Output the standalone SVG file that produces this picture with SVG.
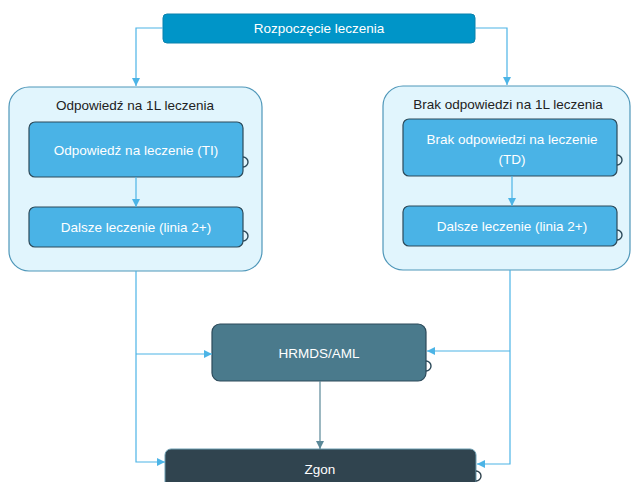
<svg xmlns="http://www.w3.org/2000/svg" width="632" height="482" viewBox="0 0 632 482">
<style>
text{font-family:"Liberation Sans",Arial,sans-serif;font-size:13.5px;text-anchor:middle}
.w{fill:#ffffff}
.d{fill:#222222}
.cont{fill:#e1f5fd;stroke:#4f97b9;stroke-width:1.2}
.inner{fill:#4ab3e6;stroke:#2c4a5a;stroke-width:1.2}
.con{fill:none;stroke:#4cb4e6;stroke-width:1.2}
.loop{fill:none;stroke:#2c4a5a;stroke-width:1.4}
</style>
<defs>
<marker id="ab" viewBox="0 0 10 10" refX="10" refY="5" markerWidth="8" markerHeight="8" markerUnits="userSpaceOnUse" orient="auto"><path d="M0,0 L10,5 L0,10 z" fill="#4cb4e6"/></marker>
<marker id="ag" viewBox="0 0 10 10" refX="10" refY="5" markerWidth="8" markerHeight="8" markerUnits="userSpaceOnUse" orient="auto"><path d="M0,0 L10,5 L0,10 z" fill="#5a8898"/></marker>
</defs>
<g id="start">
<rect x="163" y="14" width="312" height="29" rx="4" fill="#0095c8" stroke="#0a82ad" stroke-width="1"/>
<text class="w" x="319" y="33">Rozpoczęcie leczenia</text>
</g>
<g id="group-left">
<rect class="cont" x="9" y="87" width="253" height="184" rx="20"/>
<text class="d" x="135" y="110">Odpowiedź na 1L leczenia</text>
</g>
<g id="group-right">
<rect class="cont" x="383" y="86" width="247" height="184" rx="20"/>
<text class="d" x="508" y="109">Brak odpowiedzi na 1L leczenia</text>
</g>
<g id="ti">
<rect class="inner" x="29" y="122" width="214" height="55" rx="6"/>
<path class="loop" d="M243,157 A5,5 0 0 1 243,167"/>
<text class="w" x="136" y="155">Odpowiedź na leczenie (TI)</text>
</g>
<g id="dalsze-left">
<rect class="inner" x="29" y="207" width="214" height="40" rx="6"/>
<path class="loop" d="M243,231 A5,5 0 0 1 243,241"/>
<text class="w" x="136" y="232">Dalsze leczenie (linia 2+)</text>
</g>
<g id="td">
<rect class="inner" x="403" y="119" width="214" height="57" rx="6"/>
<path class="loop" d="M617,155 A5,5 0 0 1 617,165"/>
<text class="w" x="512" y="144">Brak odpowiedzi na leczenie</text>
<text class="w" x="512" y="164">(TD)</text>
</g>
<g id="dalsze-right">
<rect class="inner" x="403" y="206" width="214" height="40" rx="6"/>
<path class="loop" d="M617,230 A5,5 0 0 1 617,240"/>
<text class="w" x="512" y="231">Dalsze leczenie (linia 2+)</text>
</g>
<g id="hrmds">
<rect x="212" y="324" width="214" height="57" rx="8" fill="#4a7a8c" stroke="#2c4a5a" stroke-width="1.2"/>
<path class="loop" d="M426,361 A5,5 0 0 1 426,371"/>
<text class="w" x="319" y="358">HRMDS/AML</text>
</g>
<g id="zgon">
<rect x="165" y="449" width="311" height="45" rx="6" fill="#30444f" stroke="#6a9cb0" stroke-width="1"/>
<path fill="none" stroke="#30444f" stroke-width="1.4" d="M476,471 A5,5 0 0 1 476,481"/>
<text class="w" x="320" y="474">Zgon</text>
</g>
<g id="connectors">
<path class="con" d="M163,28 H136 V86" marker-end="url(#ab)"/>
<path class="con" d="M475,28 H507 V85" marker-end="url(#ab)"/>
<path class="con" d="M136,177 V207" marker-end="url(#ab)"/>
<path class="con" d="M512,176 V206" marker-end="url(#ab)"/>
<path class="con" d="M136,271 V462 H165" marker-end="url(#ab)"/>
<path class="con" d="M136,354 H212" marker-end="url(#ab)"/>
<path class="con" d="M510,270 V464 H477" marker-end="url(#ab)"/>
<path class="con" d="M510,351 H427" marker-end="url(#ab)"/>
<path fill="none" stroke="#5a8898" stroke-width="1.2" d="M320,381 V449" marker-end="url(#ag)"/>
</g>
</svg>
